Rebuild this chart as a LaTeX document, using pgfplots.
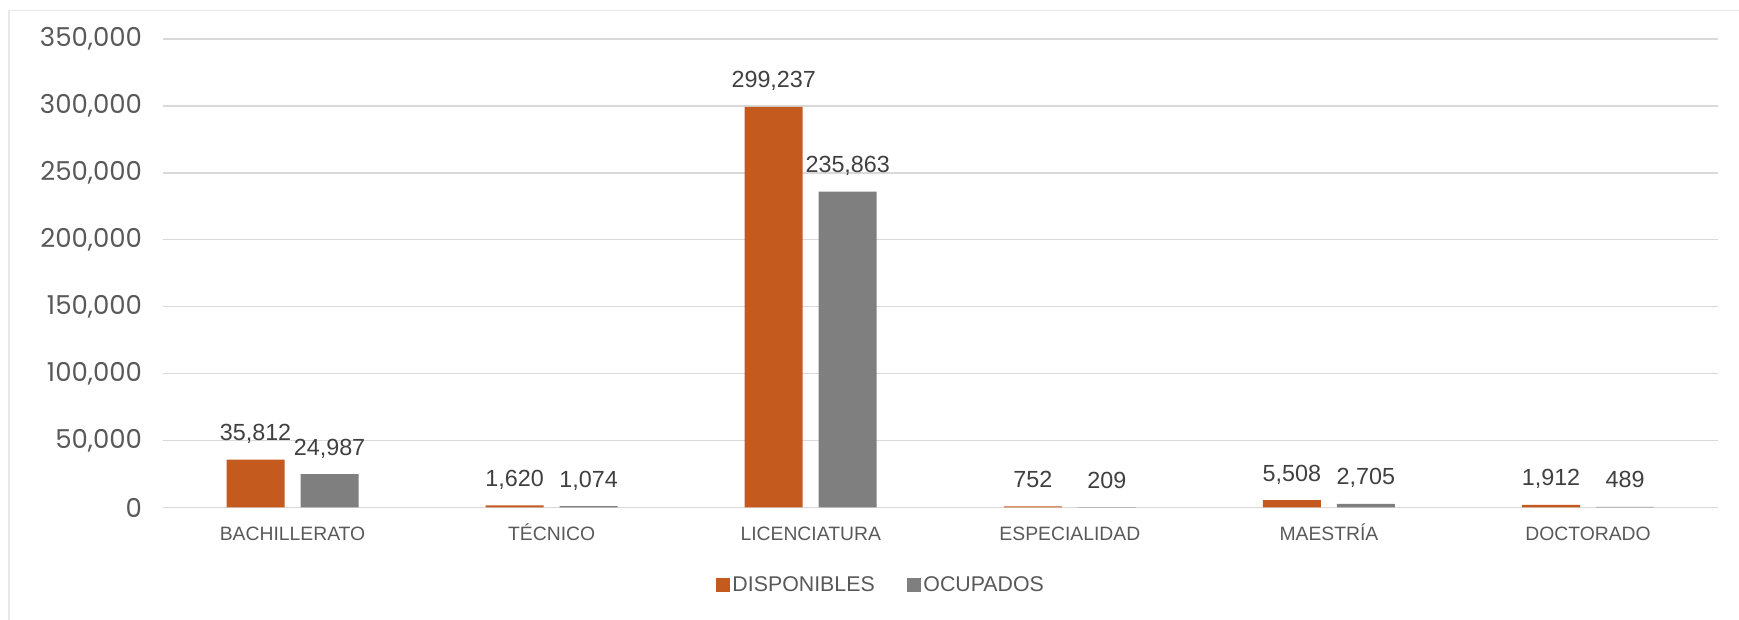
\documentclass[border=0pt]{standalone}
\usepackage{fontspec}
\setmainfont{Liberation Sans}
\newfontfamily\tickfont{Poppins}
\usepackage{pgfplots}
\pgfplotsset{compat=1.18}
\definecolor{cOrange}{HTML}{C55A1F}
\definecolor{cGray}{HTML}{7F7F7F}
\definecolor{cGrid}{HTML}{D9D9D9}
\definecolor{cText}{HTML}{595959}
\definecolor{cLabel}{HTML}{404040}
\definecolor{cFrame}{HTML}{E8E8E8}
\pgfplotsset{sqlegend/.style={legend image code/.code={\fill[##1,draw=none] (0pt,-5.25pt) rectangle (10.5pt,5.25pt);}}}
\begin{document}
\begin{tikzpicture}
\useasboundingbox (0,0) rectangle (1304.25pt,465pt);
\draw[color=cFrame, line width=1.1pt] (6.75pt,0) -- (6.75pt,457pt) -- (1304.25pt,457pt);
\begin{axis}[
  at={(122.25pt,84.4pt)}, anchor=south west,
  scale only axis, width=1166pt, height=351.4pt,
  clip=false,
  ymin=0, ymax=350000, xmin=-0.5, xmax=5.5,
  ytick={0,50000,100000,150000,200000,250000,300000,350000},
  scaled y ticks=false,
  xtick={0,1,2,3,4,5},
  xticklabels={BACHILLERATO,TÉCNICO,LICENCIATURA,ESPECIALIDAD,MAESTRÍA,DOCTORADO},
  ymajorgrids, major grid style={cGrid, line width=1.1pt},
  major tick length=0pt, tick style={draw=none},
  axis line style={draw=none},
  yticklabel style={font=\tickfont\fontsize{19.5}{21}\selectfont, text=cText, inner sep=0pt, anchor=east, xshift=-15.5pt,
    /pgf/number format/fixed, /pgf/number format/1000 sep={,}, /pgf/number format/assume math mode=true},
  xticklabel style={font=\fontsize{14.5}{16}\selectfont, text=cText, inner sep=0pt, anchor=base, yshift=-25pt},
  ybar=12pt, bar width=43.5pt,
  nodes near coords={\pgfmathprintnumber[fixed,precision=0,1000 sep={,},assume math mode=true]{\pgfplotspointmeta}},
  nodes near coords style={font=\fontsize{17.5}{19}\selectfont, text=cLabel, anchor=base, inner sep=0pt, yshift=14.25pt},
  legend columns=2,
  legend style={at={(axis description cs:0.462,-0.166)}, anchor=center, draw=none, fill=none,
    font=\fontsize{16}{18}\selectfont, text=cText,
    nodes={inner sep=2pt},
    /tikz/every even column/.append style={column sep=22pt}},
]
\addplot[fill=cOrange, draw=none, sqlegend] coordinates {(0,35812) (1,1620) (2,299237) (3,752) (4,5508) (5,1912)};
\addplot[fill=cGray, draw=none, sqlegend] coordinates {(0,24987) (1,1074) (2,235863) (3,209) (4,2705) (5,489)};
\legend{DISPONIBLES, OCUPADOS}
\end{axis}
\end{tikzpicture}
\end{document}
